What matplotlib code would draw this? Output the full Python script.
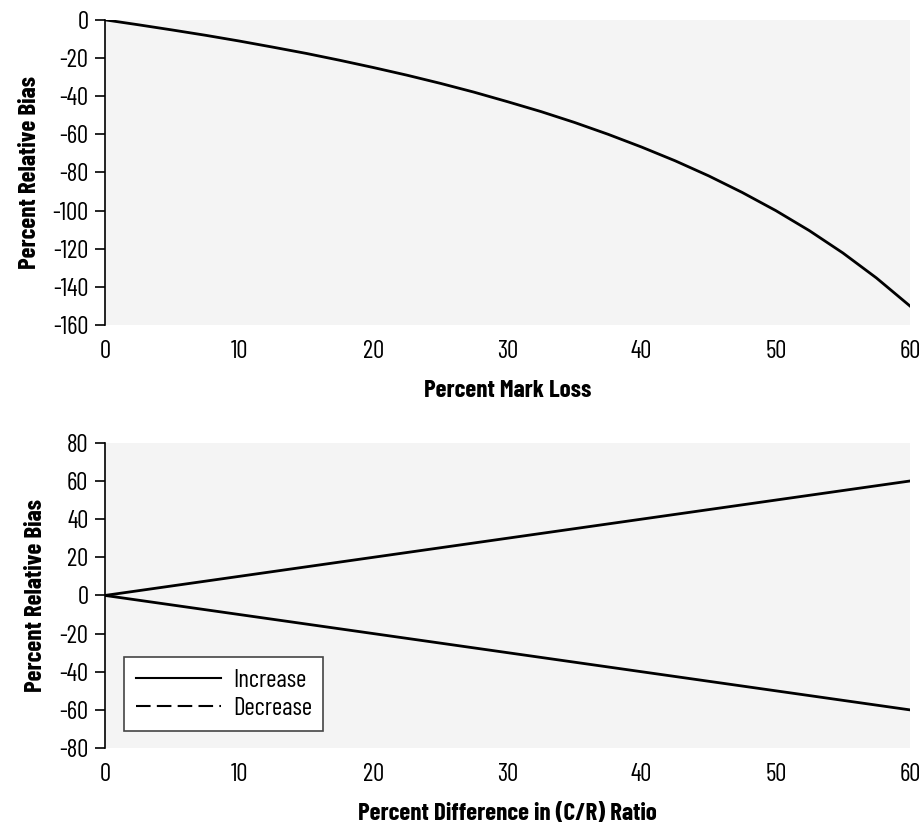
import matplotlib
matplotlib.use('Agg')
import matplotlib.pyplot as plt
from matplotlib.lines import Line2D

plt.rcParams['font.family'] = ['Barlow Condensed', 'DejaVu Sans']
plt.rcParams['font.stretch'] = 'condensed'
plt.rcParams['axes.unicode_minus'] = False

# top panel: bias vs mark loss
mark_loss = [0, 2.5, 5, 7.5, 10, 12.5, 15, 17.5, 20, 22.5, 25, 27.5, 30, 32.5,
             35, 37.5, 40, 42.5, 45, 47.5, 50, 52.5, 55, 57.5, 60]
bias_loss = [0, -2.6, -5.3, -8.1, -11.1, -14.3, -17.6, -21.2, -25.0, -29.0, -33.3, -37.9,
             -42.9, -48.1, -53.8, -60.0, -66.7, -73.9, -81.8, -90.5, -100.0, -110.5,
             -122.2, -135.3, -150.0]

# bottom panel: bias vs change in (C/R) ratio
pct_diff = [0, 10, 20, 30, 40, 50, 60]
bias_inc = [0, 10, 20, 30, 40, 50, 60]
bias_dec = [0, -10, -20, -30, -40, -50, -60]

bg = '#f4f4f4'
fs = 18

fig = plt.figure(figsize=(9.23, 8.27), dpi=100)
ax1 = fig.add_axes([0.1138, 0.607, 0.872, 0.369])
ax2 = fig.add_axes([0.1138, 0.0955, 0.872, 0.369])


def style(ax, yticks):
    ax.set_facecolor(bg)
    for s in ['top', 'right', 'bottom']:
        ax.spines[s].set_visible(False)
    ax.spines['left'].set_linewidth(1.2)
    ax.set_xlim(0, 60)
    ax.set_xticks([0, 10, 20, 30, 40, 50, 60])
    ax.set_yticks(yticks)
    ax.set_ylim(yticks[0], yticks[-1])
    ax.tick_params(axis='x', length=0, pad=11, labelsize=fs)
    ax.tick_params(axis='y', length=7, width=1.2, direction='out', labelsize=fs, pad=5)


ax1.plot(mark_loss, bias_loss, color='black', lw=2)
style(ax1, list(range(-160, 1, 20)))
ax1.set_ylabel('Percent Relative Bias', fontsize=fs, fontweight='bold')
ax1.yaxis.set_label_coords(-0.0795, 0.5)
ax1.set_xlabel('Percent Mark Loss', fontsize=fs, fontweight='bold', labelpad=12)

ax2.plot(pct_diff, bias_inc, color='black', lw=2)
ax2.plot(pct_diff, bias_dec, color='black', lw=2)
style(ax2, list(range(-80, 81, 20)))
ax2.set_ylabel('Percent Relative Bias', fontsize=fs, fontweight='bold')
ax2.yaxis.set_label_coords(-0.072, 0.5)
ax2.set_xlabel('Percent Difference in (C/R) Ratio', fontsize=fs, fontweight='bold', labelpad=12)

handles = [Line2D([], [], color='black', lw=1.5, ls='-'),
           Line2D([], [], color='black', lw=1.5, ls=(0, (7, 3)))]
leg = ax2.legend(handles, ['Increase', 'Decrease'], loc='lower left',
                 bbox_to_anchor=(0.024, 0.056), borderaxespad=0, fontsize=fs,
                 frameon=True, fancybox=False, handlelength=3.4, handletextpad=0.5,
                 borderpad=0.45, labelspacing=0.2)
leg.get_frame().set_edgecolor('#444444')
leg.get_frame().set_linewidth(1.2)
leg.get_frame().set_facecolor('white')
leg.get_frame().set_alpha(1)

fig.savefig('out.png', dpi=100)
